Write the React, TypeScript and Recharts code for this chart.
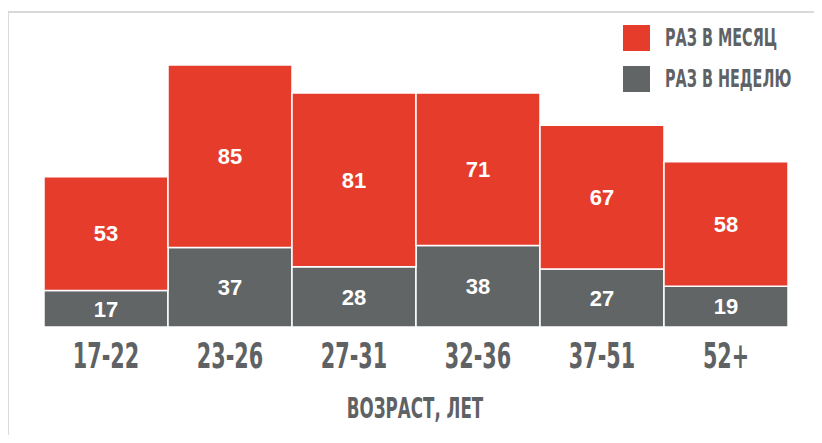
import { BarChart, Bar, XAxis, YAxis, LabelList } from 'recharts';

// Возрастные группы и частота (значения подписаны на столбцах)
const ageGroups = ['17-22', '23-26', '27-31', '32-36', '37-51', '52+'];
const perWeek = [17, 37, 28, 38, 27, 19];
const perMonth = [53, 85, 81, 71, 67, 58];

const RED = '#e53c2c';
const GRAY = '#626566';
const TEXT = '#5f6264';
const NARROW = "'Liberation Sans Narrow', 'DejaVu Sans Condensed', 'DejaVu Sans', sans-serif";
const SQUEEZE = 0.64;

const data = ageGroups.map((age, i) => ({ age, week: perWeek[i], month: perMonth[i] }));

type TickProps = { x?: number; y?: number; payload?: { value: string } };

function AgeTick({ x = 0, y = 0, payload }: TickProps) {
  return (
    <g transform={`translate(${x},${y + 41}) scale(${SQUEEZE},1)`}>
      <text textAnchor="middle" fill={TEXT} fontFamily={NARROW} fontWeight={700} fontSize={36}>
        {payload?.value}
      </text>
    </g>
  );
}

const legendItems = [
  { label: 'РАЗ В МЕСЯЦ', color: RED },
  { label: 'РАЗ В НЕДЕЛЮ', color: GRAY },
];

function LegendBox() {
  return (
    <div style={{ position: 'absolute', left: 623, top: 25 }}>
      {legendItems.map((it) => (
        <div key={it.label} style={{ position: 'relative', height: 26, marginBottom: 15 }}>
          <div style={{ position: 'absolute', left: 0, top: 0, width: 27, height: 26, background: it.color }} />
          <div
            style={{
              position: 'absolute',
              left: 42,
              top: 0,
              color: TEXT,
              fontFamily: NARROW,
              fontWeight: 700,
              fontSize: 25,
              lineHeight: '26px',
              transform: `scaleX(${SQUEEZE})`,
              transformOrigin: 'left center',
              whiteSpace: 'nowrap',
            }}
          >
            {it.label}
          </div>
        </div>
      ))}
    </div>
  );
}

export default function App() {
  return (
    <div style={{ position: 'relative', width: 822, height: 443, margin: -8, background: '#fff', overflow: 'hidden' }}>
      <div
        style={{
          position: 'absolute',
          left: 7,
          top: 11,
          right: 0,
          bottom: 0,
          borderTop: '2px solid #d9d9d9',
          borderLeft: '2px solid #d9d9d9',
        }}
      />
      <BarChart
        width={822}
        height={443}
        data={data}
        margin={{ top: 65, right: 34, bottom: 56, left: 44 }}
        barCategoryGap={0}
        style={{ position: 'absolute', left: 0, top: 0 }}
      >
        <XAxis
          dataKey="age"
          axisLine={false}
          tickLine={false}
          tickSize={0}
          tickMargin={0}
          height={60}
          interval={0}
          tick={<AgeTick />}
        />
        <YAxis hide domain={[0, 122]} />
        <Bar dataKey="week" stackId="a" fill={GRAY} stroke="#fff" strokeWidth={1.5} isAnimationActive={false}>
          <LabelList
            dataKey="week"
            position="center"
            fill="#fff"
            fontFamily="Arial, 'Liberation Sans', sans-serif"
            fontWeight={700}
            fontSize={22}
          />
        </Bar>
        <Bar dataKey="month" stackId="a" fill={RED} stroke="#fff" strokeWidth={1.5} isAnimationActive={false}>
          <LabelList
            dataKey="month"
            position="center"
            fill="#fff"
            fontFamily="Arial, 'Liberation Sans', sans-serif"
            fontWeight={700}
            fontSize={22}
          />
        </Bar>
      </BarChart>
      <LegendBox />
      <div
        style={{
          position: 'absolute',
          left: 0,
          width: 830,
          top: 392,
          textAlign: 'center',
          color: TEXT,
          fontFamily: NARROW,
          fontWeight: 700,
          fontSize: 29,
          lineHeight: '32px',
          transform: `scaleX(${SQUEEZE})`,
        }}
      >
        ВОЗРАСТ, ЛЕТ
      </div>
    </div>
  );
}
